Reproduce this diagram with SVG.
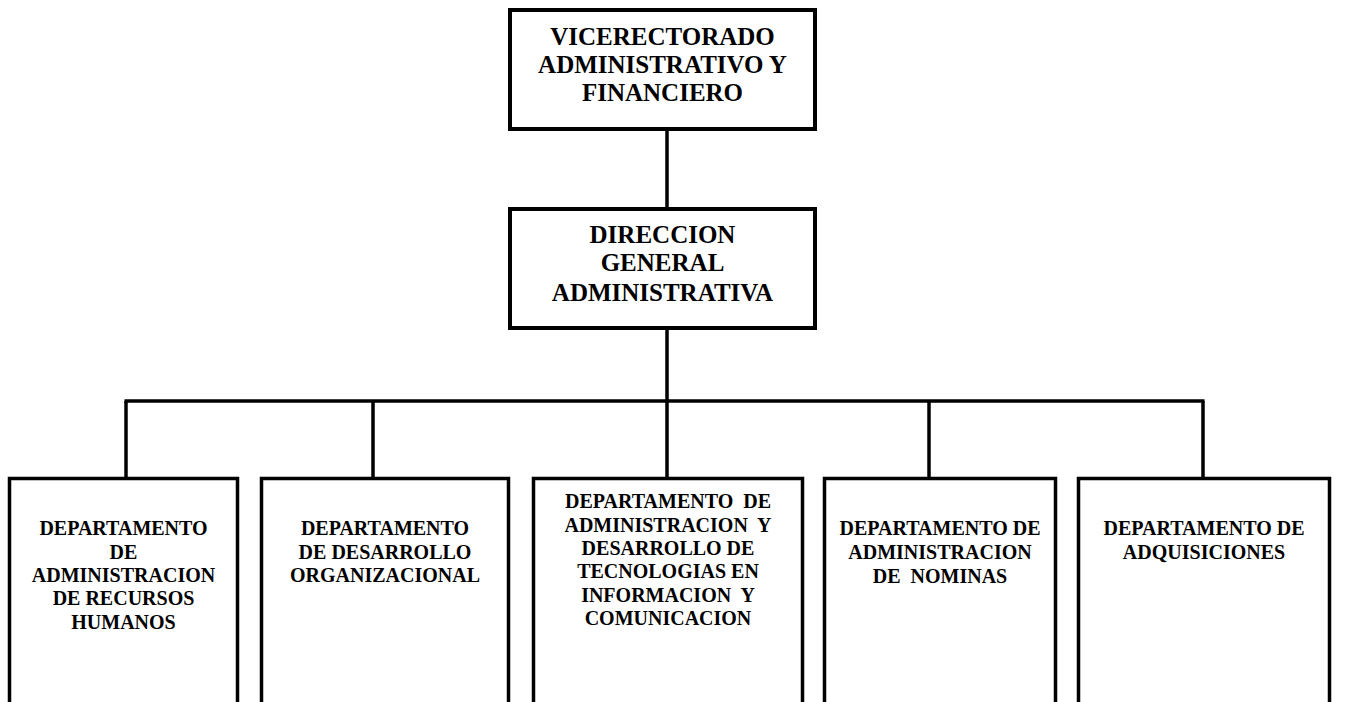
<svg xmlns="http://www.w3.org/2000/svg" width="1369" height="702" viewBox="0 0 1369 702">
<style>
.box{fill:#fff;stroke:#000;stroke-width:4}
.dept{fill:#fff;stroke:#000;stroke-width:3.5}
.conn{stroke:#000;stroke-width:3.5;fill:none}
text{font-family:"Liberation Serif","Times New Roman",serif;font-weight:bold;fill:#000;text-anchor:middle;white-space:pre}
.t1{font-size:25px}
.t2{font-size:20px}
</style>
<rect width="1369" height="702" fill="#fff"/>
<g id="connectors">
<line class="conn" x1="667" y1="131" x2="667" y2="208"/>
<line class="conn" x1="667" y1="330" x2="667" y2="401"/>
<line class="conn" x1="124.5" y1="401" x2="1204.5" y2="401"/>
<line class="conn" x1="126" y1="401" x2="126" y2="478"/>
<line class="conn" x1="373" y1="401" x2="373" y2="478"/>
<line class="conn" x1="667" y1="401" x2="667" y2="478"/>
<line class="conn" x1="929" y1="401" x2="929" y2="478"/>
<line class="conn" x1="1203" y1="401" x2="1203" y2="478"/>
</g>
<g id="vicerectorado">
<rect class="box" x="510" y="10" width="305" height="119"/>
<text class="t1" x="662.5" y="45">VICERECTORADO</text>
<text class="t1" x="662.5" y="73">ADMINISTRATIVO Y</text>
<text class="t1" x="662.5" y="101">FINANCIERO</text>
</g>
<g id="direccion">
<rect class="box" x="510" y="209" width="305" height="119"/>
<text class="t1" x="662.5" y="243">DIRECCION</text>
<text class="t1" x="662.5" y="271">GENERAL</text>
<text class="t1" x="662.5" y="301">ADMINISTRATIVA</text>
</g>
<g id="dept-rrhh">
<rect class="dept" x="9.5" y="478.5" width="228" height="260"/>
<text class="t2" x="123.5" y="535">DEPARTAMENTO</text>
<text class="t2" x="123.5" y="559">DE</text>
<text class="t2" x="123.5" y="582">ADMINISTRACION</text>
<text class="t2" x="123.5" y="605">DE RECURSOS</text>
<text class="t2" x="123.5" y="629">HUMANOS</text>
</g>
<g id="dept-desarrollo">
<rect class="dept" x="261.5" y="478.5" width="247" height="260"/>
<text class="t2" x="385" y="535">DEPARTAMENTO</text>
<text class="t2" x="385" y="559">DE DESARROLLO</text>
<text class="t2" x="385" y="582">ORGANIZACIONAL</text>
</g>
<g id="dept-tic">
<rect class="dept" x="533.5" y="478.5" width="269" height="260"/>
<text class="t2" x="668" y="508">DEPARTAMENTO  DE</text>
<text class="t2" x="668" y="532">ADMINISTRACION  Y</text>
<text class="t2" x="668" y="555">DESARROLLO DE</text>
<text class="t2" x="668" y="578">TECNOLOGIAS EN</text>
<text class="t2" x="668" y="602">INFORMACION  Y</text>
<text class="t2" x="668" y="625">COMUNICACION</text>
</g>
<g id="dept-nominas">
<rect class="dept" x="824.5" y="478.5" width="231" height="260"/>
<text class="t2" x="940" y="535">DEPARTAMENTO DE</text>
<text class="t2" x="940" y="559">ADMINISTRACION</text>
<text class="t2" x="940" y="583">DE  NOMINAS</text>
</g>
<g id="dept-adquisiciones">
<rect class="dept" x="1078.5" y="478.5" width="251" height="260"/>
<text class="t2" x="1204" y="535">DEPARTAMENTO DE</text>
<text class="t2" x="1204" y="559">ADQUISICIONES</text>
</g>
</svg>
